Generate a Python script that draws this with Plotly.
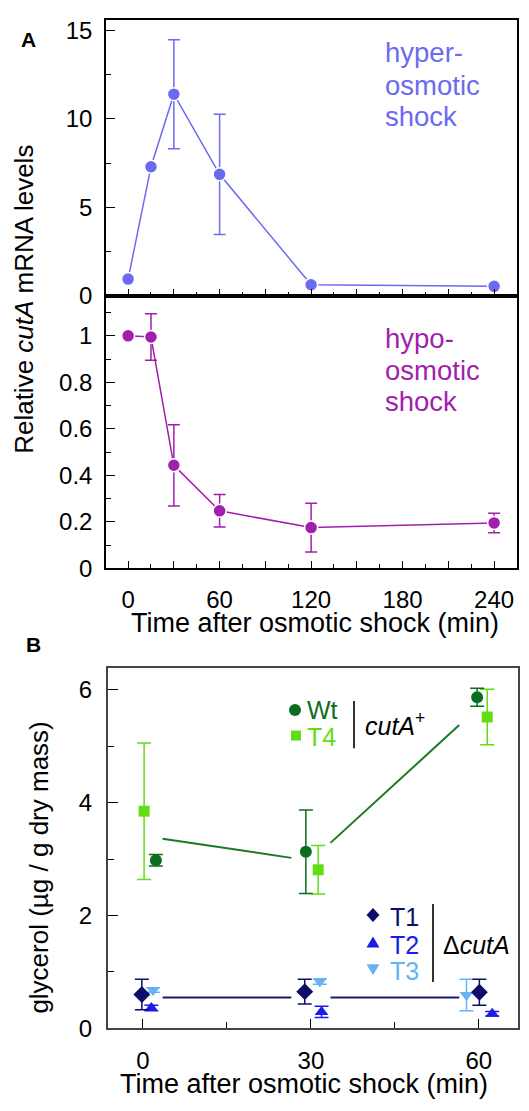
import plotly.graph_objects as go

# ---------------- data ----------------
# Panel A (relative cutA mRNA levels)
times_a = [0, 15, 30, 60, 120, 240]
hyper = [0.95, 7.3, 11.4, 6.87, 0.63, 0.54]
hyper_err = [0, 0.15, 3.08, 3.4, 0, 0]
hypo = [1.0, 0.995, 0.443, 0.247, 0.175, 0.195]
hypo_err = [0, 0.1, 0.175, 0.07, 0.105, 0.042]
ticks_a = [0, 60, 120, 180, 240]

# Panel B (glycerol, ug / g dry mass)
times_b = [0, 30, 60]
wt = [2.98, 3.13, 5.87]
wt_err = [0.10, 0.74, 0.16]
t4 = [3.85, 2.81, 5.52]
t4_err = [1.21, 0.43, 0.49]
t1 = [0.60, 0.65, 0.64]
t1_err = [0.27, 0.22, 0.23]
t2 = [0.36, 0.29, 0.26]
t2_err = [0.05, 0.10, 0.04]
t3 = [0.68, 0.83, 0.59]
t3_err = [0.04, 0.05, 0.28]
ticks_b = [0, 30, 60]

# ---------------- style ----------------
OFF = 8                     # page body margin of the browser
EXTRA = 20                  # figure extends a little below the window
W, H = 529 - OFF, 1111 - OFF + EXTRA
FONT = "Liberation Sans, Arial, Helvetica, sans-serif"
C_HYPER = "#6b6bf0"
C_HYPO = "#a21fae"
C_WT = "#0b6e1f"
C_T4 = "#62dc14"
C_T1 = "#0e0e6a"
C_T2 = "#1c1ce6"
C_T3 = "#66b2f5"
# horizontal dodge of the points around each nominal time (min)
dodge = {"wt": [2.3, -0.9, -0.3], "t4": [0.2, 1.3, 1.5],
         "t1": [-0.2, -1.1, 0.1], "t2": [1.5, 1.9, 2.4], "t3": [1.8, 1.6, -2.2]}
GAP = 3.5  # min of free space left at ends of the connecting segments


def fx(p):
    return (p - OFF) / W


def fy(p):
    return 1 - (p - OFF) / H


fig = go.Figure()

# ---- Panel A ----
fig.add_trace(go.Scatter(
    x=times_a, y=hyper, mode="lines+markers", xaxis="x", yaxis="y",
    line=dict(color=C_HYPER, width=1.5),
    marker=dict(size=13, color=C_HYPER, line=dict(color="white", width=1.5)),
    error_y=dict(type="data", array=hyper_err, color=C_HYPER, thickness=1.5, width=6),
    showlegend=False))
fig.add_trace(go.Scatter(
    x=times_a, y=hypo, mode="lines+markers", xaxis="x2", yaxis="y2",
    line=dict(color=C_HYPO, width=1.5),
    marker=dict(size=13, color=C_HYPO, line=dict(color="white", width=1.5)),
    error_y=dict(type="data", array=hypo_err, color=C_HYPO, thickness=1.5, width=6),
    showlegend=False))


# ---- Panel B connecting lines (means, with gaps near the points) ----
def gapped_segments(ts, ys):
    xs, yv = [], []
    for k in range(len(ts) - 1):
        a, b = ts[k], ts[k + 1]
        ya, yb = ys[k], ys[k + 1]
        s = (yb - ya) / (b - a)
        xs += [a + GAP, b - GAP, None]
        yv += [ya + s * GAP, yb - s * GAP, None]
    return xs, yv


mean_plus = [(a + b) / 2 for a, b in zip(wt, t4)]
all_delta = t1 + t2 + t3
mean_delta = sum(all_delta) / len(all_delta)
gx, gy = gapped_segments(times_b, mean_plus)
bx, by = gapped_segments(times_b, [mean_delta] * len(times_b))
fig.add_trace(go.Scatter(x=gx, y=gy, mode="lines", xaxis="x3", yaxis="y3",
                         line=dict(color="#1a7a22", width=2), showlegend=False))
fig.add_trace(go.Scatter(x=bx, y=by, mode="lines", xaxis="x3", yaxis="y3",
                         line=dict(color="#1a1a6e", width=2), showlegend=False))

series_b = [
    ("t4", t4, t4_err, C_T4, "square", 11),
    ("wt", wt, wt_err, C_WT, "circle", 12),
    ("t3", t3, t3_err, C_T3, "triangle-down", 12),
    ("t2", t2, t2_err, C_T2, "triangle-up", 12),
    ("t1", t1, t1_err, C_T1, "diamond", 13),
]
for key, ys, es, col, sym, sz in series_b:
    xs = [t + d for t, d in zip(times_b, dodge[key])]
    fig.add_trace(go.Scatter(
        x=xs, y=ys, mode="markers", xaxis="x3", yaxis="y3",
        marker=dict(symbol=sym, size=sz, color=col, line=dict(width=0)),
        error_y=dict(type="data", array=es, color=col, thickness=1.5, width=7),
        showlegend=False))

# ---------------- axes ----------------
tickfont = dict(size=24, color="black", family=FONT)


def axis(**kw):
    d = dict(showline=True, linecolor="black", linewidth=1.5, mirror=True,
             ticks="inside", tickcolor="black", tickwidth=1.3, showgrid=False,
             zeroline=False, tickfont=tickfont, fixedrange=True)
    d.update(kw)
    return d


xa_dom = [fx(106), fx(517)]
major_a = list(range(0, 241, 30))
fig.update_layout(
    xaxis=axis(domain=xa_dom, range=[-14.5, 255], anchor="y", tickvals=major_a,
               showticklabels=False, ticklen=7,
               minor=dict(dtick=15, tick0=0, ticks="inside", ticklen=4, tickcolor="black")),
    yaxis=axis(domain=[fy(297), fy(17)], range=[0, 15.6], anchor="x",
               tickvals=[0, 5, 10, 15], ticklen=9, ticklabelstandoff=7,
               minor=dict(dtick=2.5, tick0=0, ticks="inside", ticklen=5, tickcolor="black")),
    xaxis2=axis(domain=xa_dom, range=[-14.5, 255], anchor="y2", tickvals=major_a,
                ticktext=[str(v) if v in ticks_a else "" for v in major_a], ticklen=7,
                ticklabelstandoff=9,
                minor=dict(dtick=15, tick0=0, ticks="inside", ticklen=4, tickcolor="black")),
    yaxis2=axis(domain=[fy(573.3), fy(297)], range=[0, 1.172], anchor="x2",
                tickvals=[0, 0.2, 0.4, 0.6, 0.8, 1.0], ticktext=["0", "0.2", "0.4", "0.6", "0.8", "1"],
                ticklen=9, ticklabelstandoff=7,
                minor=dict(dtick=0.1, tick0=0, ticks="inside", ticklen=5, tickcolor="black")),
    xaxis3=axis(domain=[fx(108), fx(518)], range=[-6.25, 67], anchor="y3", tickvals=ticks_b,
                ticklen=9, linecolor="#444444", linewidth=2, ticklabelstandoff=10,
                minor=dict(dtick=15, tick0=0, ticks="inside", ticklen=6, tickcolor="black")),
    yaxis3=axis(domain=[fy(1040), fy(675)], range=[0, 6.38], anchor="x3",
                tickvals=[0, 2, 4, 6], ticklen=10, linecolor="#444444", linewidth=2,
                ticklabelstandoff=9,
                minor=dict(dtick=1, tick0=0, ticks="inside", ticklen=6, tickcolor="black")),
)

# ---------------- annotations ----------------
ann = []


def text(x, y, s, size, color="black", xanchor="center", yanchor="middle", angle=0):
    ann.append(dict(x=fx(x), y=fy(y), xref="paper", yref="paper", text=s, showarrow=False,
                    xanchor=xanchor, yanchor=yanchor, textangle=angle, borderpad=0,
                    font=dict(size=size, color=color, family=FONT)))


text(28, 37, "<b>A</b>", 21)
text(33, 651, "<b>B</b>", 21)
text(24, 301, "Relative <i>cutA</i> mRNA levels", 26, angle=-90)
text(39, 877, "glycerol (µg / g dry mass)", 26, angle=-90)
text(315, 629, "Time after osmotic shock (min)", 27)
text(304, 1097, "Time after osmotic shock (min)", 27)

for s, yc in zip(["hyper-", "osmotic", "shock"], [50.5, 83.5, 115.5]):
    text(384, yc, s, 27.5, C_HYPER, xanchor="left")
for s, yc in zip(["hypo-", "osmotic", "shock"], [340, 373, 404.5]):
    text(384, yc, s, 27.5, C_HYPO, xanchor="left")

# legend texts
text(306, 717, "Wt", 25, C_WT, xanchor="left")
text(306, 744, "T4", 25, C_T4, xanchor="left")
text(364, 731, "<i>cutA</i><sup>+</sup>", 25, "black", xanchor="left")
text(389, 927, "T1", 25, C_T1, xanchor="left")
text(389, 955, "T2", 25, C_T2, xanchor="left")
text(389, 982, "T3", 25, C_T3, xanchor="left")
text(442, 955, "Δ<i>cutA</i>", 25, "black", xanchor="left")

shapes = [
    dict(type="line", xref="paper", yref="paper", x0=fx(354), x1=fx(354), y0=fy(708), y1=fy(756),
         line=dict(color="#333333", width=2)),
    dict(type="line", xref="paper", yref="paper", x0=fx(433), x1=fx(433), y0=fy(914), y1=fy(993),
         line=dict(color="#333333", width=2)),
]


def glyph(cx, cy, kind, color):
    base = dict(xref="paper", yref="paper", xsizemode="pixel", ysizemode="pixel",
                xanchor=fx(cx), yanchor=fy(cy), fillcolor=color, line=dict(width=0))
    if kind == "circle":
        base.update(type="circle", x0=-6, x1=6, y0=-6, y1=6)
    elif kind == "square":
        base.update(type="rect", x0=-5, x1=5, y0=-5, y1=5)
    elif kind == "diamond":
        base.update(type="path", path="M 0,7 L 6.5,0 L 0,-7 L -6.5,0 Z")
    elif kind == "up":
        base.update(type="path", path="M -6.5,-5 L 6.5,-5 L 0,6 Z")
    elif kind == "down":
        base.update(type="path", path="M -6.5,5 L 6.5,5 L 0,-6 Z")
    shapes.append(base)


glyph(295, 717, "circle", C_WT)
glyph(296, 743, "square", C_T4)
glyph(373, 925, "diamond", C_T1)
glyph(373, 953, "up", C_T2)
glyph(373, 980, "down", C_T3)

fig.update_layout(
    width=W, height=H, margin=dict(l=0, r=0, t=0, b=0),
    paper_bgcolor="white", plot_bgcolor="white",
    font=dict(family=FONT, color="black"),
    annotations=ann, shapes=shapes, showlegend=False,
)

fig.write_html("out.html")
